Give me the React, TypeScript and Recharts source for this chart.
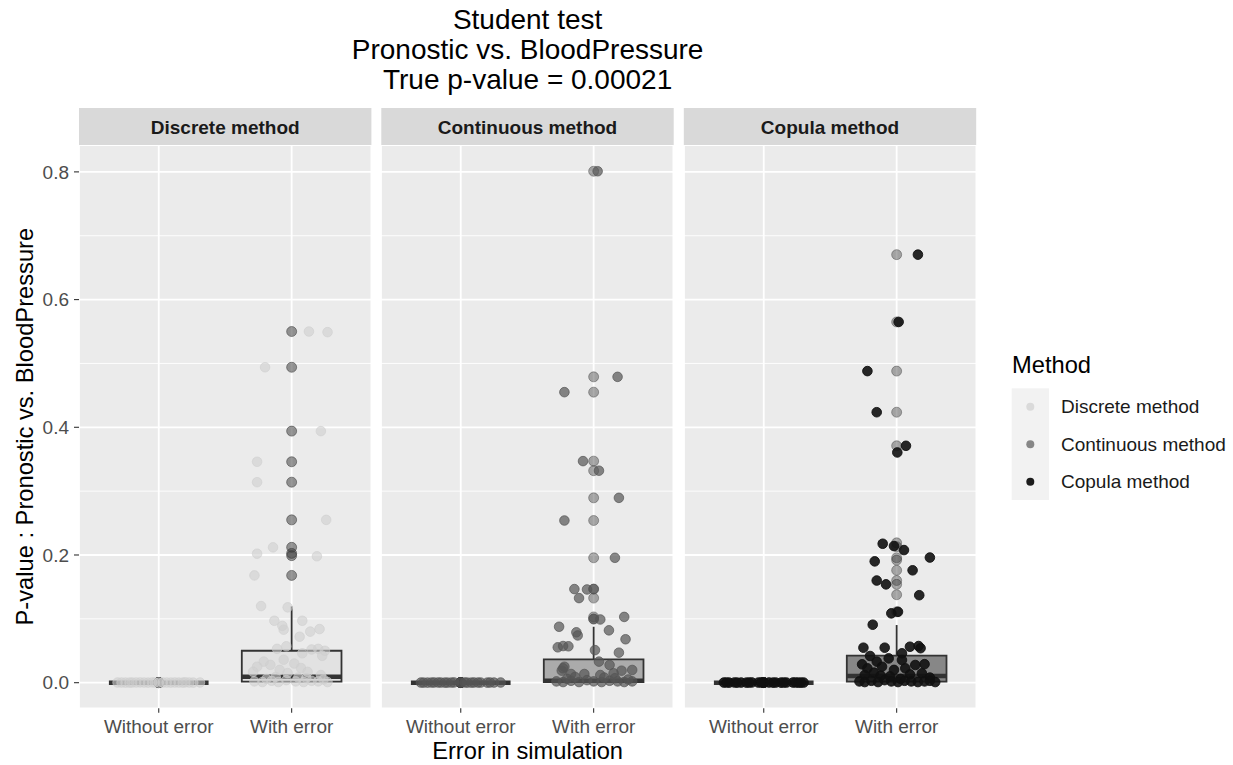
import {
  CartesianGrid,
  ReferenceArea,
  ReferenceLine,
  Scatter,
  ScatterChart,
  XAxis,
  YAxis,
} from 'recharts'

const methods = ['Discrete method', 'Continuous method', 'Copula method']
const groups = ['Without error', 'With error']
const yTicks = [0, 0.2, 0.4, 0.6, 0.8]
const yMinor = [0.1, 0.3, 0.5, 0.7]

// p-values of the "Without error" runs (all tiny) and their jitter
const discreteWithout = [
  0.0003, 0.0001, 0.0002, 0.0004, 0.0001, 0.0002, 0.0003, 0.0001, 0.0002, 0.0005, 0.0001, 0.0003,
  0.0002, 0.0001, 0.0003, 0.0002, 0.0004, 0.0001, 0.0002, 0.0003, 0.0001, 0.0002,
]
const discreteWithoutJitter = [
  -0.31, -0.25, -0.2, -0.14, -0.08, -0.03, 0.03, 0.09, 0.15, 0.2, 0.26, 0.31,
  -0.28, -0.22, -0.17, -0.11, -0.05, 0.0, 0.06, 0.12, 0.18, 0.23,
]
const continuousWithout = [
  0.0002, 0.0001, 0.0003, 0.0002, 0.0001, 0.0004, 0.0002, 0.0001, 0.0003, 0.0002, 0.0001, 0.0002, 0.0003,
  0.0001, 0.0002, 0.0003, 0.0001, 0.0002, 0.0004, 0.0001, 0.0002, 0.0003,
]
const continuousWithoutJitter = [
  -0.3, -0.25, -0.2, -0.15, -0.1, -0.05, 0.0, 0.05, 0.1, 0.15, 0.2, 0.25, 0.3,
  -0.28, -0.22, -0.17, -0.12, -0.07, 0.03, 0.08, 0.13, 0.22,
]
const copulaWithout = [
  0.0002, 0.0001, 0.0003, 0.0002, 0.0001, 0.0004, 0.0002, 0.0001, 0.0003, 0.0002, 0.0001, 0.0002, 0.0003, 0.0001, 0.0002,
  0.0003, 0.0001, 0.0002, 0.0004, 0.0001, 0.0002, 0.0003, 0.0001,
]
const copulaWithoutJitter = [
  -0.3, -0.26, -0.22, -0.17, -0.13, -0.09, -0.04, 0.0, 0.04, 0.09, 0.13, 0.17, 0.22, 0.26, 0.3,
  -0.28, -0.2, -0.11, -0.02, 0.07, 0.15, 0.24, 0.28,
]

// p-values of the "With error" runs and their jitter
const discreteWith = [
  0.55, 0.549, 0.494, 0.394, 0.346, 0.314, 0.255, 0.212, 0.202, 0.198, 0.168, 0.12, 0.118,
  0.097, 0.089, 0.097, 0.083, 0.084, 0.08, 0.072, 0.053, 0.052, 0.053, 0.05, 0.057, 0.046,
  0.042, 0.033, 0.028, 0.025, 0.036, 0.03, 0.023, 0.02, 0.017, 0.017, 0.012, 0.015,
  0.002, 0.001, 0.003, 0.001, 0.004, 0.002, 0.001, 0.003, 0.002, 0.001, 0.006, 0.008, 0.005, 0.009, 0.007,
]
const discreteWithJitter = [
  0.13, 0.27, -0.2, 0.22, -0.26, -0.26, 0.26, -0.14, -0.26, 0.19, -0.28, -0.23, -0.03,
  -0.13, -0.07, 0.08, -0.06, 0.21, 0.14, 0.06, -0.11, 0.15, 0.2, 0.25, -0.04, 0.08,
  0.23, -0.21, -0.16, -0.26, -0.06, 0.02, 0.07, -0.09, -0.29, 0.12, 0.22, -0.03,
  -0.28, -0.22, -0.15, -0.1, -0.04, 0.03, 0.09, 0.15, 0.2, 0.27, -0.19, 0.05, 0.24, -0.12, 0.11,
]
const continuousWith = [
  0.801, 0.479, 0.455, 0.347, 0.332, 0.2895, 0.254, 0.1956, 0.1466, 0.146, 0.1466, 0.1325,
  0.0997, 0.099, 0.103, 0.0876, 0.0789, 0.074, 0.082, 0.068, 0.0554, 0.0574, 0.057, 0.051,
  0.047, 0.033, 0.025, 0.0277, 0.0199, 0.0188, 0.0188, 0.0136, 0.0136, 0.012, 0.0147, 0.0225,
  0.002, 0.001, 0.003, 0.001, 0.004, 0.002, 0.001, 0.003, 0.002, 0.001, 0.002, 0.006, 0.008, 0.005, 0.009, 0.007,
]
const continuousWithJitter = [
  0.03, 0.18, -0.22, -0.08, 0.04, 0.19, -0.22, 0.16, -0.145, -0.05, 0.0, -0.11,
  0.0, 0.05, 0.23, -0.26, -0.13, -0.12, 0.115, 0.24, -0.27, -0.23, -0.19, 0.01,
  0.19, 0.04, -0.22, 0.12, 0.29, 0.21, -0.24, -0.17, -0.07, 0.05, 0.15, -0.23,
  -0.28, -0.23, -0.17, -0.11, -0.05, 0.0, 0.06, 0.12, 0.18, 0.23, 0.29, -0.2, 0.08, 0.26, -0.14, 0.16,
]
const copulaWith = [
  0.6704, 0.565, 0.488, 0.4236, 0.371, 0.3606, 0.2176, 0.214, 0.2077, 0.196, 0.19, 0.176,
  0.16, 0.154, 0.137, 0.111, 0.1086, 0.0908, 0.0548, 0.0548, 0.0563, 0.0574, 0.054, 0.046,
  0.0418, 0.0288, 0.033, 0.038, 0.0355, 0.0225, 0.025, 0.02, 0.0225, 0.0277, 0.029, 0.0147,
  0.0157, 0.012, 0.01, 0.013, 0.008, 0.011, 0.006,
  0.002, 0.001, 0.003, 0.001, 0.004, 0.002, 0.001, 0.003, 0.002, 0.001, 0.002, 0.003, 0.001,
]
const copulaWithJitter = [
  0.16, 0.015, -0.22, -0.15, 0.07, 0.005, -0.105, -0.02, 0.055, 0.25, -0.165, 0.12,
  -0.15, -0.08, 0.17, 0.01, -0.04, -0.18, -0.25, -0.09, 0.1, 0.165, 0.18, 0.04,
  -0.2, -0.26, -0.15, -0.06, 0.04, -0.22, -0.11, -0.02, 0.065, 0.14, 0.21, 0.19,
  -0.17, -0.24, -0.05, 0.1, 0.25, -0.12, 0.03,
  -0.28, -0.24, -0.19, -0.14, -0.09, -0.04, 0.01, 0.06, 0.11, 0.16, 0.21, 0.25, 0.29,
]

// boxplot outliers: without error / with error
const discreteOutliersWithout = [0.0001, 0.0002, 0.0003, 0.0002, 0.0001, 0.0004, 0.0002, 0.0003]
const discreteOutliersWith = [0.55, 0.494, 0.394, 0.346, 0.314, 0.255, 0.212, 0.2025, 0.199, 0.168]
const continuousOutliersWithout = [0.0001, 0.0002, 0.0003, 0.0002, 0.0001, 0.0004, 0.0002, 0.0003]
const continuousOutliersWith = [0.801, 0.479, 0.455, 0.347, 0.332, 0.2895, 0.254, 0.1956, 0.1466, 0.1325, 0.103, 0.0997]
const copulaOutliersWithout = [0.0001, 0.0002, 0.0003, 0.0002, 0.0001, 0.0004, 0.0002, 0.0003]
const copulaOutliersWith = [0.6704, 0.565, 0.488, 0.4236, 0.371, 0.219, 0.213, 0.1956, 0.192, 0.176, 0.16, 0.154, 0.1377, 0.111]

// box statistics: [lower whisker, q1, median, q3, upper whisker]
const withoutErrorBox = [0, 0, 0, 0, 0]
const discreteBox = [0, 0.0016, 0.0094, 0.05, 0.1195]
const continuousBox = [0, 0.0008, 0.003, 0.0366, 0.0876]
const copulaBox = [0, 0.0016, 0.0105, 0.0423, 0.0903]

const FONT = '"Liberation Sans", Arial, Helvetica, sans-serif'
const PLOT_TOP = 145
const PLOT_H = 563.3
const AXIS_H = 45
const PANEL_W = 292.4
const Y_AXIS_W = 79
const panelLefts = [79, 381.3, 683.8]
const Y_DOMAIN: [number, number] = [-0.0401, 0.8421]
const legendColors = ['#DADADA', '#878787', '#1C1C1C']

const facetStyles = [
  { point: '#CFCFCF', pointOpacity: 0.6, outlierOpacity: 0.5, boxFill: '#E2E2E2' },
  { point: '#555555', pointOpacity: 0.7, outlierOpacity: 0.4, boxFill: '#ABABAB' },
  { point: '#111111', pointOpacity: 0.9, outlierOpacity: 0.4, boxFill: '#878787' },
]

const dot = (r: number, fill: string, opacity: number) => (props: any) => (
  <circle
    cx={props.cx}
    cy={props.cy}
    r={r}
    fill={fill}
    fillOpacity={opacity}
    stroke={fill}
    strokeOpacity={opacity}
    strokeWidth={1}
  />
)

const toPoints = (center: number, vals: number[], jitter?: number[]) =>
  vals.map((v, i) => ({ x: center + (jitter ? jitter[i] : 0), y: v }))

function Facet(props: {
  index: number
  without: number[]
  withoutJitter: number[]
  withVals: number[]
  withJitter: number[]
  outWithout: number[]
  outWith: number[]
  box: number[]
}) {
  const { index } = props
  const st = facetStyles[index]
  const showY = index === 0
  const width = PANEL_W + (showY ? Y_AXIS_W : 0)
  const left = panelLefts[index] - (showY ? Y_AXIS_W : 0)
  const boxes = [
    { c: 1, s: withoutErrorBox },
    { c: 2, s: props.box },
  ]
  const outliers = [...toPoints(1, props.outWithout), ...toPoints(2, props.outWith)]
  const jittered = [
    ...toPoints(1, props.without, props.withoutJitter),
    ...toPoints(2, props.withVals, props.withJitter),
  ]
  return (
    <div style={{ position: 'absolute', left, top: PLOT_TOP }}>
      <ScatterChart width={width} height={PLOT_H + AXIS_H} margin={{ top: 0, right: 0, bottom: 0, left: 0 }}>
        <CartesianGrid fill='#EBEBEB' stroke='#FFFFFF' strokeWidth={0.9} horizontalValues={yMinor} vertical={false} />
        <CartesianGrid stroke='#FFFFFF' strokeWidth={1.8} />
        <XAxis
          type='number'
          dataKey='x'
          domain={[0.4, 2.6]}
          ticks={[1, 2]}
          interval={0}
          allowDataOverflow
          tickFormatter={(v) => groups[Math.round(v) - 1]}
          axisLine={false}
          tickSize={4.5}
          tickMargin={6.5}
          tickLine={{ stroke: '#333333', strokeWidth: 1.1 }}
          tick={{ fill: '#4D4D4D', fontSize: 19, fontFamily: FONT }}
          height={AXIS_H}
        />
        <YAxis
          type='number'
          dataKey='y'
          domain={Y_DOMAIN}
          ticks={yTicks}
          interval={0}
          allowDataOverflow
          hide={!showY}
          width={Y_AXIS_W}
          tickFormatter={(v) => Number(v).toFixed(1)}
          axisLine={false}
          tickSize={5}
          tickMargin={5}
          tickLine={{ stroke: '#333333', strokeWidth: 1.1 }}
          tick={{ fill: '#4D4D4D', fontSize: 19, fontFamily: FONT }}
        />
        {boxes.map((b) =>
          b.s[3] > b.s[1] ? (
            <ReferenceArea
              key={'box' + b.c}
              x1={b.c - 0.375}
              x2={b.c + 0.375}
              y1={b.s[1]}
              y2={b.s[3]}
              fill={st.boxFill}
              fillOpacity={1}
              stroke='#333333'
              strokeWidth={1.8}
              zIndex={-60}
            />
          ) : null
        )}
        {boxes.map((b) => (
          <ReferenceLine
            key={'wh' + b.c}
            segment={[
              { x: b.c, y: b.s[3] },
              { x: b.c, y: b.s[4] },
            ]}
            stroke='#333333'
            strokeWidth={1.8}
            zIndex={-50}
          />
        ))}
        {boxes.map((b) => (
          <ReferenceLine
            key={'md' + b.c}
            segment={[
              { x: b.c - 0.375, y: b.s[2] },
              { x: b.c + 0.375, y: b.s[2] },
            ]}
            stroke='#333333'
            strokeWidth={4.4}
            zIndex={-50}
          />
        ))}
        <Scatter data={outliers} shape={dot(5, '#333333', st.outlierOpacity)} isAnimationActive={false} />
        <Scatter data={jittered} shape={dot(4.8, st.point, st.pointOpacity)} isAnimationActive={false} />
      </ScatterChart>
    </div>
  )
}

export default function App() {
  const titleX = (panelLefts[0] + panelLefts[2] + PANEL_W) / 2
  const plotMidY = PLOT_TOP + PLOT_H / 2
  return (
    <div style={{ position: 'absolute', left: 0, top: 0, width: 1233, height: 765, background: '#FFFFFF', fontFamily: FONT }}>
      <svg width={1233} height={765} style={{ position: 'absolute', left: 0, top: 0 }}>
        <text x={titleX} y={29} textAnchor='middle' fontSize={28} fill='#000000'>Student test</text>
        <text x={titleX} y={59} textAnchor='middle' fontSize={28} fill='#000000'>Pronostic vs. BloodPressure</text>
        <text x={titleX} y={89} textAnchor='middle' fontSize={28} fill='#000000'>True p-value = 0.00021</text>
        {methods.map((m, i) => (
          <g key={m}>
            <rect x={panelLefts[i]} y={108} width={PANEL_W} height={37} fill='#D9D9D9' />
            <text x={panelLefts[i] + PANEL_W / 2} y={134} textAnchor='middle' fontSize={19} fontWeight='bold' fill='#1A1A1A'>
              {m}
            </text>
          </g>
        ))}
        <text x={titleX} y={759} textAnchor='middle' fontSize={23.7} fill='#000000'>Error in simulation</text>
        <text
          transform={`translate(33,${plotMidY}) rotate(-90)`}
          textAnchor='middle'
          fontSize={23.7}
          fill='#000000'
        >
          P-value : Pronostic vs. BloodPressure
        </text>
        <text x={1012} y={373.3} fontSize={23.7} fill='#000000'>Method</text>
        <rect x={1011.7} y={388.3} width={37.3} height={111.7} fill='#F2F2F2' />
        {methods.map((m, i) => (
          <g key={'lg' + m}>
            <circle cx={1030.3} cy={406.7 + i * 37.5} r={4} fill={legendColors[i]} />
            <text x={1061} y={413.3 + i * 37.3} fontSize={19} fill='#1A1A1A'>{m}</text>
          </g>
        ))}
      </svg>
      <Facet
        index={0}
        without={discreteWithout}
        withoutJitter={discreteWithoutJitter}
        withVals={discreteWith}
        withJitter={discreteWithJitter}
        outWithout={discreteOutliersWithout}
        outWith={discreteOutliersWith}
        box={discreteBox}
      />
      <Facet
        index={1}
        without={continuousWithout}
        withoutJitter={continuousWithoutJitter}
        withVals={continuousWith}
        withJitter={continuousWithJitter}
        outWithout={continuousOutliersWithout}
        outWith={continuousOutliersWith}
        box={continuousBox}
      />
      <Facet
        index={2}
        without={copulaWithout}
        withoutJitter={copulaWithoutJitter}
        withVals={copulaWith}
        withJitter={copulaWithJitter}
        outWithout={copulaOutliersWithout}
        outWith={copulaOutliersWith}
        box={copulaBox}
      />
    </div>
  )
}
